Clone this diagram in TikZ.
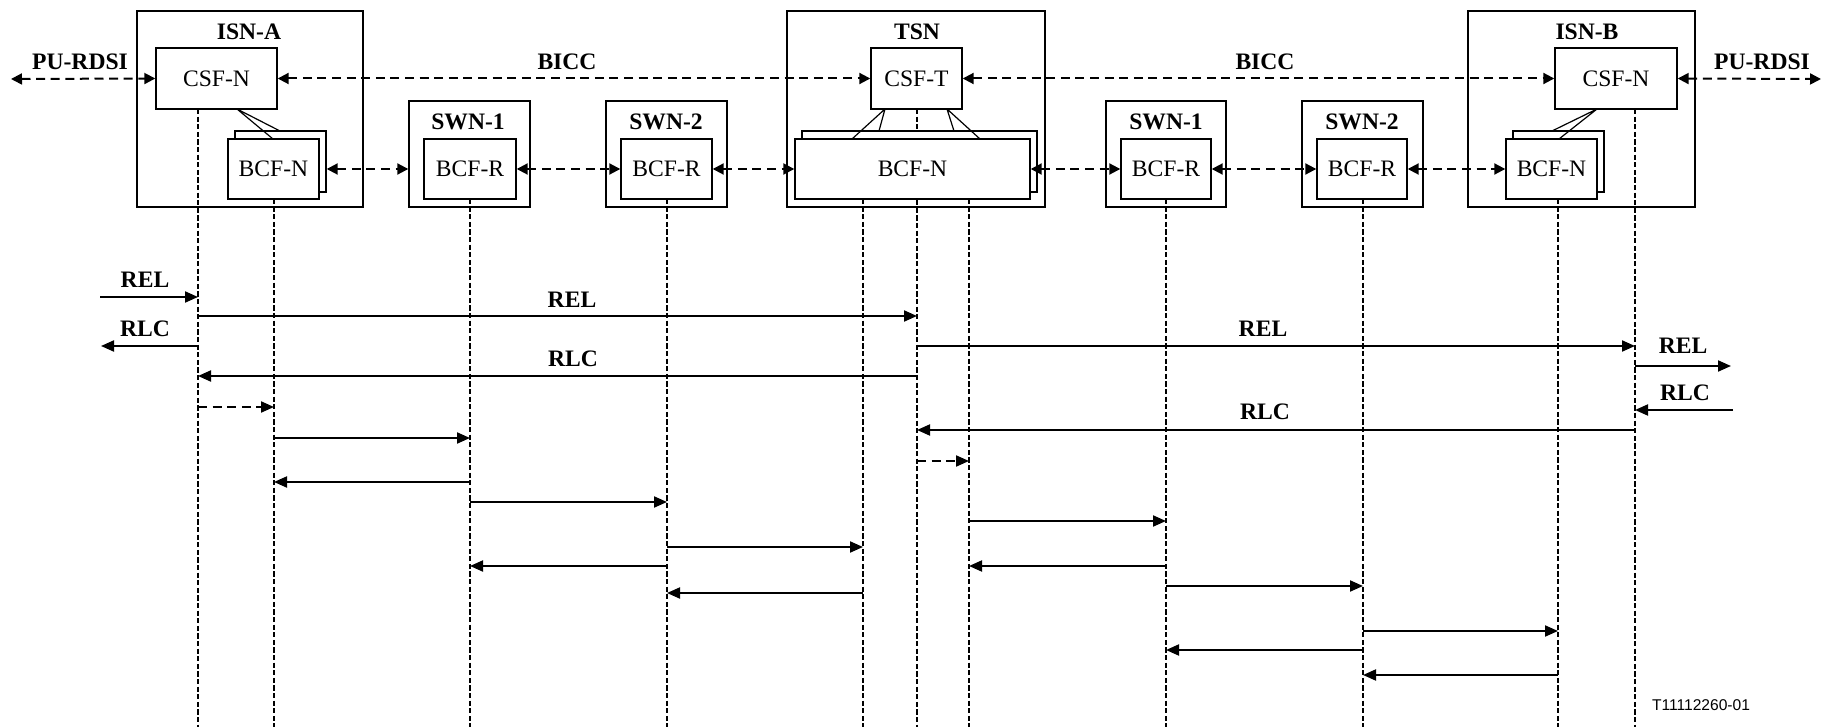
\documentclass[tikz,border=0pt]{standalone}
\usepackage{fontspec}
\setmainfont{Liberation Serif}
\newfontfamily\tagfont{Liberation Sans}
\usetikzlibrary{arrows.meta,calc}
\begin{document}
\begin{tikzpicture}[x=0.5pt,y=-0.5pt,
  box/.style={draw, line width=0.7pt, fill=white, inner sep=0pt, font=\fontsize{11.8}{14}\selectfont},
  title/.style={inner sep=0pt, font=\fontsize{11.8}{14}\selectfont\bfseries},
  lbl/.style={inner sep=0pt, font=\fontsize{11.8}{14}\selectfont\bfseries},
  life/.style={line width=0.8pt, dash pattern=on 2.6pt off 1.2pt},
  tip/.style={-{Triangle[length=6.5pt,width=5.5pt]}},
  msg/.style={line width=1pt, tip},
  dmsg/.style={line width=1pt, tip, dash pattern=on 4.5pt off 2.8pt},
  ctrl/.style={line width=1pt, dash pattern=on 4.5pt off 2.8pt, {Triangle[length=5.5pt,width=5.5pt]}-{Triangle[length=5.5pt,width=5.5pt]}},
  thin/.style={line width=0.6pt}
]
\useasboundingbox (0,0) rectangle (1822,727);

% ---------- outer boxes ----------
\node[box, minimum width=113pt, minimum height=98pt] (isnA) at (250,109) {};
\node[box, minimum width=60.5pt, minimum height=53pt] (swn1) at (469.5,154) {};
\node[box, minimum width=60.5pt, minimum height=53pt] (swn2) at (666.5,154) {};
\node[box, minimum width=129pt, minimum height=98pt] (tsn) at (916,109) {};
\node[box, minimum width=60pt, minimum height=53pt] (swn3) at (1166,154) {};
\node[box, minimum width=60.5pt, minimum height=53pt] (swn4) at (1362.5,154) {};
\node[box, minimum width=113.5pt, minimum height=98pt] (isnB) at (1581.5,109) {};

\node[title] (tA) at (249,32) {ISN-A};
\node[title] (t1) at (468,122) {SWN-1};
\node[title] (t2) at (666,122) {SWN-2};
\node[title] (tT) at (917,32) {TSN};
\node[title] (t3) at (1166,122) {SWN-1};
\node[title] (t4) at (1362,122) {SWN-2};
\node[title] (tB) at (1587,32) {ISN-B};

% ---------- lifelines (drawn under inner boxes) ----------
\coordinate (LA)  at (198,109);
\coordinate (LbA) at (274,199);
\coordinate (L1)  at (470,199);
\coordinate (L2)  at (667,199);
\coordinate (LT1) at (863,199);
\coordinate (LT)  at (917,109);
\coordinate (LT2) at (969,199);
\coordinate (L3)  at (1166,199);
\coordinate (L4)  at (1363,199);
\coordinate (LbB) at (1558,199);
\coordinate (LB)  at (1635,109);
\foreach \c in {LA,LbA,L1,L2,LT1,LT,LT2,L3,L4,LbB,LB}
  \draw[life] (\c) -- (\c |- 0,727);

% ---------- inner boxes ----------
\node[box, minimum width=60.5pt, minimum height=30.5pt] (csfA) at (216.5,78.5) {CSF-N};
\node[box, minimum width=45.5pt, minimum height=30.5pt] (csfT) at (916.5,78.5) {CSF-T};
\node[box, minimum width=61pt, minimum height=30.5pt] (csfB) at (1616,78.5) {CSF-N};

\node[box, minimum width=45.5pt, minimum height=30.5pt] (bcfAb) at (280.5,161.5) {};
\node[box, minimum width=45.5pt, minimum height=30pt] (bcfA) at (273.5,169) {BCF-N};
\node[box, minimum width=46pt, minimum height=30pt] (bcr1) at (470,169) {BCF-R};
\node[box, minimum width=45.5pt, minimum height=30pt] (bcr2) at (666.5,169) {BCF-R};
\node[box, minimum width=117.5pt, minimum height=30.5pt] (bcfTb) at (919.5,161.5) {};
\node[box, minimum width=117.5pt, minimum height=30pt] (bcfT) at (912.5,169) {BCF-N};
\node[box, minimum width=45pt, minimum height=30pt] (bcr3) at (1166,169) {BCF-R};
\node[box, minimum width=45pt, minimum height=30pt] (bcr4) at (1362,169) {BCF-R};
\node[box, minimum width=45.5pt, minimum height=30.5pt] (bcfBb) at (1558.5,161.5) {};
\node[box, minimum width=45.5pt, minimum height=30pt] (bcfB) at (1551.5,169) {BCF-N};

% ---------- CSF to BCF links ----------
\draw[thin] (237,109) -- (273,139) (237,109) -- (280,131);
\draw[thin] (885,109) -- (852,139) (885,109) -- (879,131);
\draw[thin] (947,109) -- (980,139) (947,109) -- (954,131);
\draw[thin] (1597,109) -- (1552,131) (1597,109) -- (1559,139);

% ---------- control plane ----------
\coordinate (puA) at (11,79);
\coordinate (puB) at (1821,79);
\draw[ctrl] (puA) -- (csfA.west);
\draw[ctrl] (csfA.east) -- (csfT.west);
\draw[ctrl] (csfT.east) -- (csfB.west);
\draw[ctrl] (csfB.east) -- (puB);
\node[lbl] (puAl) at (80,62) {PU-RDSI};
\node[lbl] (bicc1) at (567,62) {BICC};
\node[lbl] (bicc2) at (1265,62) {BICC};
\node[lbl] (puBl) at (1762,62) {PU-RDSI};

% ---------- bearer plane ----------
\draw[ctrl] (bcfAb.east |- bcfA.center) -- (swn1.west |- bcfA.center);
\draw[ctrl] (bcr1.east) -- (bcr2.west);
\draw[ctrl] (bcr2.east) -- (bcfT.west);
\draw[ctrl] (bcfT.east) -- (bcr3.west);
\draw[ctrl] (bcr3.east) -- (bcr4.west);
\draw[ctrl] (bcr4.east) -- (bcfB.west);

% ---------- messages ----------
\coordinate (inA)  at (100,297);
\coordinate (outA) at (101,346);
\coordinate (outB) at (1731,366);
\coordinate (inB)  at (1733,410);
\draw[msg] (inA) -- (LA |- inA);
\draw[msg] (LA |- 0,316) -- (LT |- 0,316);
\draw[msg] (LA |- outA) -- (outA);
\draw[msg] (LT |- 0,346) -- (LB |- 0,346);
\draw[msg] (LT |- 0,376) -- (LA |- 0,376);
\draw[msg] (LB |- outB) -- (outB);
\draw[dmsg] (LA |- 0,407) -- (LbA |- 0,407);
\draw[msg] (inB) -- (LB |- inB);
\draw[msg] (LB |- 0,430) -- (LT |- 0,430);
\draw[msg] (LbA |- 0,438) -- (L1 |- 0,438);
\draw[dmsg] (LT |- 0,461) -- (LT2 |- 0,461);
\draw[msg] (L1 |- 0,482) -- (LbA |- 0,482);
\draw[msg] (L1 |- 0,502) -- (L2 |- 0,502);
\draw[msg] (LT2 |- 0,521) -- (L3 |- 0,521);
\draw[msg] (L2 |- 0,547) -- (LT1 |- 0,547);
\draw[msg] (L2 |- 0,566) -- (L1 |- 0,566);
\draw[msg] (L3 |- 0,566) -- (LT2 |- 0,566);
\draw[msg] (L3 |- 0,586) -- (L4 |- 0,586);
\draw[msg] (LT1 |- 0,593) -- (L2 |- 0,593);
\draw[msg] (L4 |- 0,631) -- (LbB |- 0,631);
\draw[msg] (L4 |- 0,650) -- (L3 |- 0,650);
\draw[msg] (LbB |- 0,675) -- (L4 |- 0,675);

\node[lbl] (m1) at (145,280) {REL};
\node[lbl] (m2) at (145,329) {RLC};
\node[lbl] (m3) at (572,300) {REL};
\node[lbl] (m4) at (573,359) {RLC};
\node[lbl] (m5) at (1263,329) {REL};
\node[lbl] (m6) at (1265,412) {RLC};
\node[lbl] (m7) at (1683,346) {REL};
\node[lbl] (m8) at (1685,393) {RLC};

\node[inner sep=0pt, font=\tagfont\fontsize{7.8}{9}\selectfont] (tag) at (1701,705) {T11112260-01};
\end{tikzpicture}
\end{document}
